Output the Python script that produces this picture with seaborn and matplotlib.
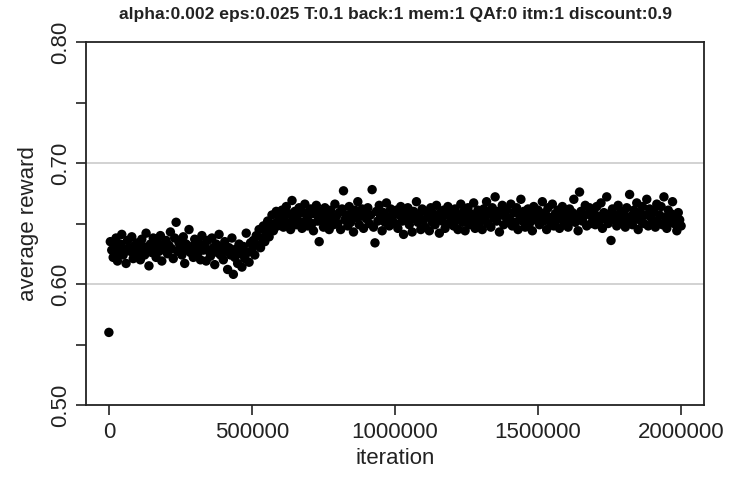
import numpy as np
import pandas as pd
import matplotlib
matplotlib.use("Agg")
import matplotlib.pyplot as plt
import seaborn as sns

# evaluation checkpoints, every 5000 iterations
iterations = np.arange(0, 2000001, 5000)

# average reward per checkpoint (thousandths), 100k iterations per row
reward_milli = [
    560, 635, 628, 622, 631, 638, 619, 626, 633, 641, 624, 629, 617, 636, 630, 627, 639, 621, 632, 625,
    634, 628, 620, 637, 631, 624, 642, 629, 615, 633, 626, 638, 630, 622, 635, 627, 640, 619, 631, 628,
    636, 625, 632, 643, 629, 621, 638, 651, 627, 634, 630, 624, 639, 617, 633, 628, 645, 626, 631, 622,
    637, 629, 625, 634, 620, 640, 628, 632, 619, 636, 627, 623, 638, 630, 616, 633, 626, 641, 624, 631,
    620, 635, 627, 612, 630, 624, 638, 608, 622, 629, 617, 633, 625, 614, 631, 621, 642, 626, 618, 634,
    628, 636, 624, 640, 632, 645, 630, 638, 648, 635, 642, 652, 639, 646, 657, 644, 650, 660, 648, 655,
    652, 661, 647, 656, 664, 650, 658, 645, 669, 654, 660, 649, 657, 663, 651, 646, 659, 666, 653, 648,
    657, 662, 650, 644, 658, 665, 652, 635, 660, 655, 647, 663, 651, 658, 645, 661, 654, 649, 666, 656,
    650, 659, 645, 662, 677, 653, 657, 648, 664, 651, 658, 643, 661, 655, 668, 649, 656, 662, 646, 659,
    654, 663, 650, 657, 678, 647, 634, 660, 652, 665, 656, 644, 659, 651, 667, 655, 648, 662, 653, 658,
    650, 661, 646, 657, 664, 652, 641, 659, 655, 663, 649, 656, 643, 660, 654, 668, 651, 658, 645, 662,
    653, 647, 660, 656, 644, 663, 651, 658, 649, 665, 654, 642, 659, 652, 661, 646, 657, 664, 650, 655,
    659, 648, 662, 653, 645, 657, 666, 651, 660, 644, 655, 663, 649, 658, 652, 667, 646, 656, 661, 650,
    657, 645, 662, 654, 668, 650, 659, 647, 663, 655, 672, 652, 660, 643, 657, 665, 649, 656, 661, 651,
    654, 666, 648, 659, 651, 663, 645, 657, 670, 652, 660, 647, 655, 662, 650, 658, 644, 664, 653, 656,
    661, 649, 657, 668, 652, 659, 645, 663, 655, 650, 666, 648, 658, 653, 661, 646, 656, 664, 651, 659,
    655, 647, 662, 653, 659, 670, 651, 657, 644, 676, 660, 652, 656, 665, 648, 658, 663, 650, 655, 661,
    649, 664, 656, 652, 667, 646, 659, 654, 672, 650, 658, 636, 662, 653, 657, 648, 665, 651, 660, 655,
    658, 647, 663, 652, 674, 656, 649, 661, 654, 667, 645, 659, 652, 664, 650, 657, 670, 648, 662, 655,
    653, 660, 647, 666, 651, 657, 664, 649, 672, 655, 646, 661, 652, 658, 668, 650, 656, 644, 659, 653,
    648,
]

x_ticks = [0, 500000, 1000000, 1500000, 2000000]
y_major = [0.50, 0.60, 0.70, 0.80]
y_minor = [0.55, 0.65, 0.75]
grid_levels = [0.60, 0.70]
title = "alpha:0.002 eps:0.025 T:0.1 back:1 mem:1 QAf:0 itm:1 discount:0.9"

df = pd.DataFrame({"iteration": iterations,
                   "reward": np.array(reward_milli) / 1000.0})

sns.set_style("ticks")
plt.rcParams["font.family"] = ["Liberation Sans", "DejaVu Sans"]

fig = plt.figure(figsize=(7.33, 4.84), dpi=100)
ax = fig.add_axes([86 / 733, 1 - 405 / 484, (704 - 86) / 733, (405 - 42) / 484])

for lvl in grid_levels:
    ax.axhline(lvl, color="#cfcfcf", lw=1.3, zorder=0)

sns.scatterplot(data=df, x="iteration", y="reward", ax=ax, color="black",
                s=46, edgecolor="none", linewidth=0, zorder=3, legend=False)

ax.set_xlim(-80000, 2080000)
ax.set_ylim(0.5, 0.8)
ax.set_xticks(x_ticks)
ax.set_xticklabels([str(t) for t in x_ticks])
ax.set_yticks(y_major)
ax.set_yticklabels([f"{v:.2f}" for v in y_major], rotation=90, va="center")
ax.set_yticks(y_minor, minor=True)

ax.tick_params(axis="both", which="both", direction="out", length=7, width=1.2,
               color="#222222", labelsize=16, labelcolor="#222222")
ax.tick_params(axis="x", pad=5)
ax.tick_params(axis="y", pad=4)

for sp in ax.spines.values():
    sp.set_visible(True)
    sp.set_color("#222222")
    sp.set_linewidth(1.3)

ax.set_xlabel("iteration", fontsize=16, color="#222222", labelpad=4)
ax.set_ylabel("average reward", fontsize=16, color="#222222", labelpad=8)
fig.text(395 / 733, 1 - 15 / 484, title, ha="center", va="center",
         fontsize=12.6, fontweight="bold", color="#222222")

fig.savefig("out.png", dpi=100)
